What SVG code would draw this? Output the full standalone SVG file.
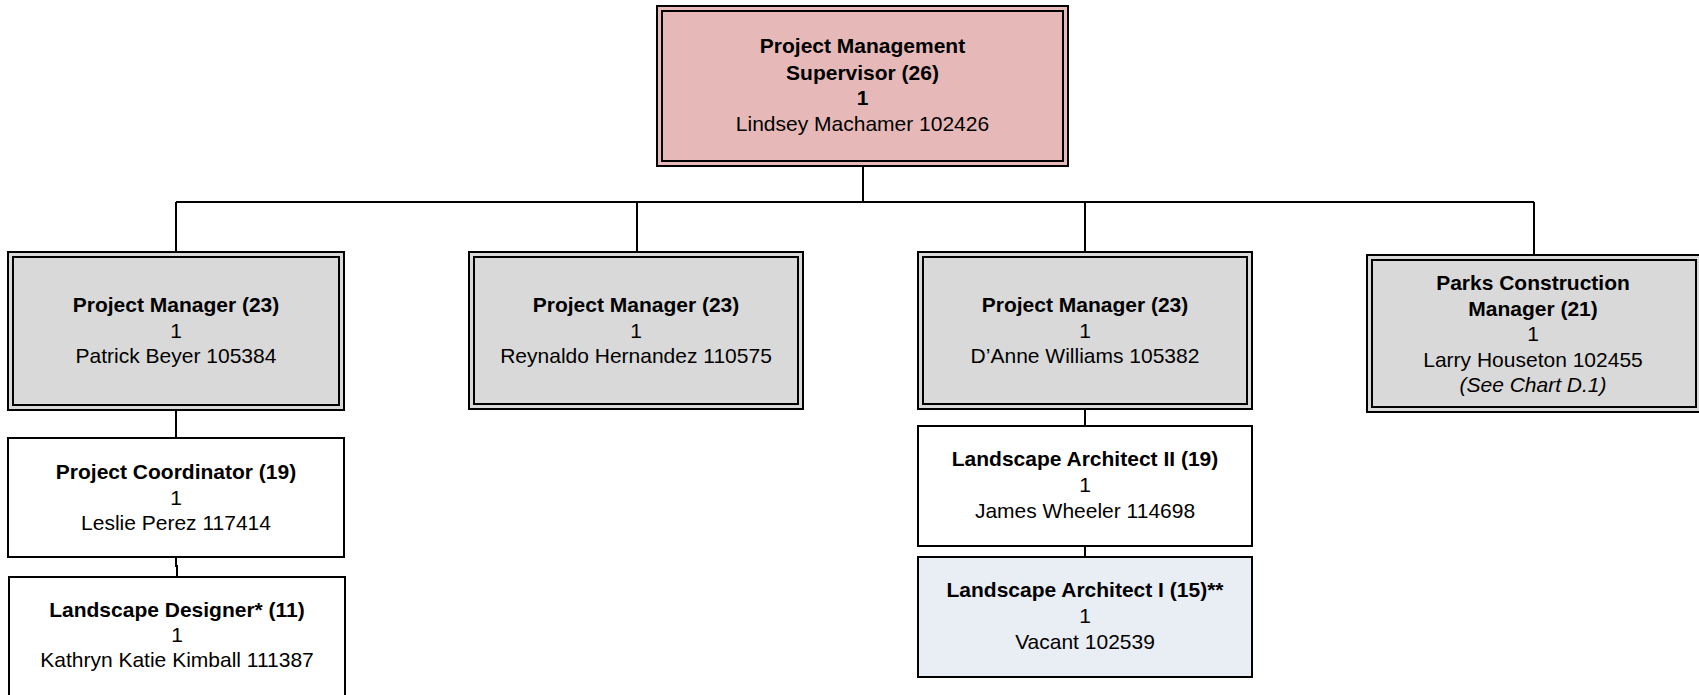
<svg xmlns="http://www.w3.org/2000/svg" width="1699" height="695" viewBox="0 0 1699 695">
<style>
text{font-family:"Liberation Sans",Arial,sans-serif;font-size:21px;fill:#000;text-anchor:middle}
.b{font-weight:bold}
.i{font-style:italic}
.outer{stroke:#000;stroke-width:2}
.inner{fill:none;stroke:#000;stroke-width:2}
.single{stroke:#000;stroke-width:2}
.pink{fill:#e6b9b8}
.gray{fill:#d9d9d9}
.white{fill:#fff}
.blue{fill:#e9edf4}
.conn{stroke:#000;stroke-width:2;fill:none}
</style>
<rect width="1699" height="695" fill="#fff"/>
<g id="connectors">
<path class="conn" d="M863 167V202M176 202H1534M176 202V251M637 202V251M1085 202V251M1534 202V254"/>
<path class="conn" d="M176 411V437M176 557V566H177V576M1085 410V425M1085 546V557"/>
</g>
<g id="supervisor">
<rect class="outer pink" x="657" y="6" width="411" height="160"/>
<rect class="inner" x="662" y="11" width="401" height="150"/>
<text class="b" x="862.5" y="53">Project Management</text>
<text class="b" x="862.5" y="79.5">Supervisor (26)</text>
<text class="b" x="862.5" y="105">1</text>
<text x="862.5" y="130.5">Lindsey Machamer 102426</text>
</g>
<g id="pm-beyer">
<rect class="outer gray" x="8" y="252" width="336" height="158"/>
<rect class="inner" x="13" y="257" width="326" height="148"/>
<text class="b" x="176" y="312">Project Manager (23)</text>
<text x="176" y="337.5">1</text>
<text x="176" y="363">Patrick Beyer 105384</text>
</g>
<g id="pm-hernandez">
<rect class="outer gray" x="469" y="252" width="334" height="157"/>
<rect class="inner" x="474" y="257" width="324" height="147"/>
<text class="b" x="636" y="312">Project Manager (23)</text>
<text x="636" y="337.5">1</text>
<text x="636" y="363">Reynaldo Hernandez 110575</text>
</g>
<g id="pm-williams">
<rect class="outer gray" x="918" y="252" width="334" height="157"/>
<rect class="inner" x="923" y="257" width="324" height="147"/>
<text class="b" x="1085" y="312">Project Manager (23)</text>
<text x="1085" y="337.5">1</text>
<text x="1085" y="363">D’Anne Williams 105382</text>
</g>
<g id="parks-construction">
<rect class="outer gray" x="1367" y="255" width="334" height="157"/>
<rect class="inner" x="1372" y="260" width="324" height="147"/>
<text class="b" x="1533" y="290">Parks Construction</text>
<text class="b" x="1533" y="315.5">Manager (21)</text>
<text x="1533" y="341">1</text>
<text x="1533" y="366.5">Larry Houseton 102455</text>
<text class="i" x="1533" y="392">(See Chart D.1)</text>
</g>
<g id="project-coordinator">
<rect class="single white" x="8" y="438" width="336" height="119"/>
<text class="b" x="176" y="479">Project Coordinator (19)</text>
<text x="176" y="504.5">1</text>
<text x="176" y="530">Leslie Perez 117414</text>
</g>
<g id="landscape-designer">
<rect class="single white" x="9" y="577" width="336" height="130"/>
<text class="b" x="177" y="617">Landscape Designer* (11)</text>
<text x="177" y="642">1</text>
<text x="177" y="667">Kathryn Katie Kimball 111387</text>
</g>
<g id="landscape-architect-2">
<rect class="single white" x="918" y="426" width="334" height="120"/>
<text class="b" x="1085" y="466">Landscape Architect II (19)</text>
<text x="1085" y="492">1</text>
<text x="1085" y="518">James Wheeler 114698</text>
</g>
<g id="landscape-architect-1">
<rect class="single blue" x="918" y="557" width="334" height="120"/>
<text class="b" x="1085" y="597">Landscape Architect I (15)**</text>
<text x="1085" y="623">1</text>
<text x="1085" y="649">Vacant 102539</text>
</g>
</svg>
